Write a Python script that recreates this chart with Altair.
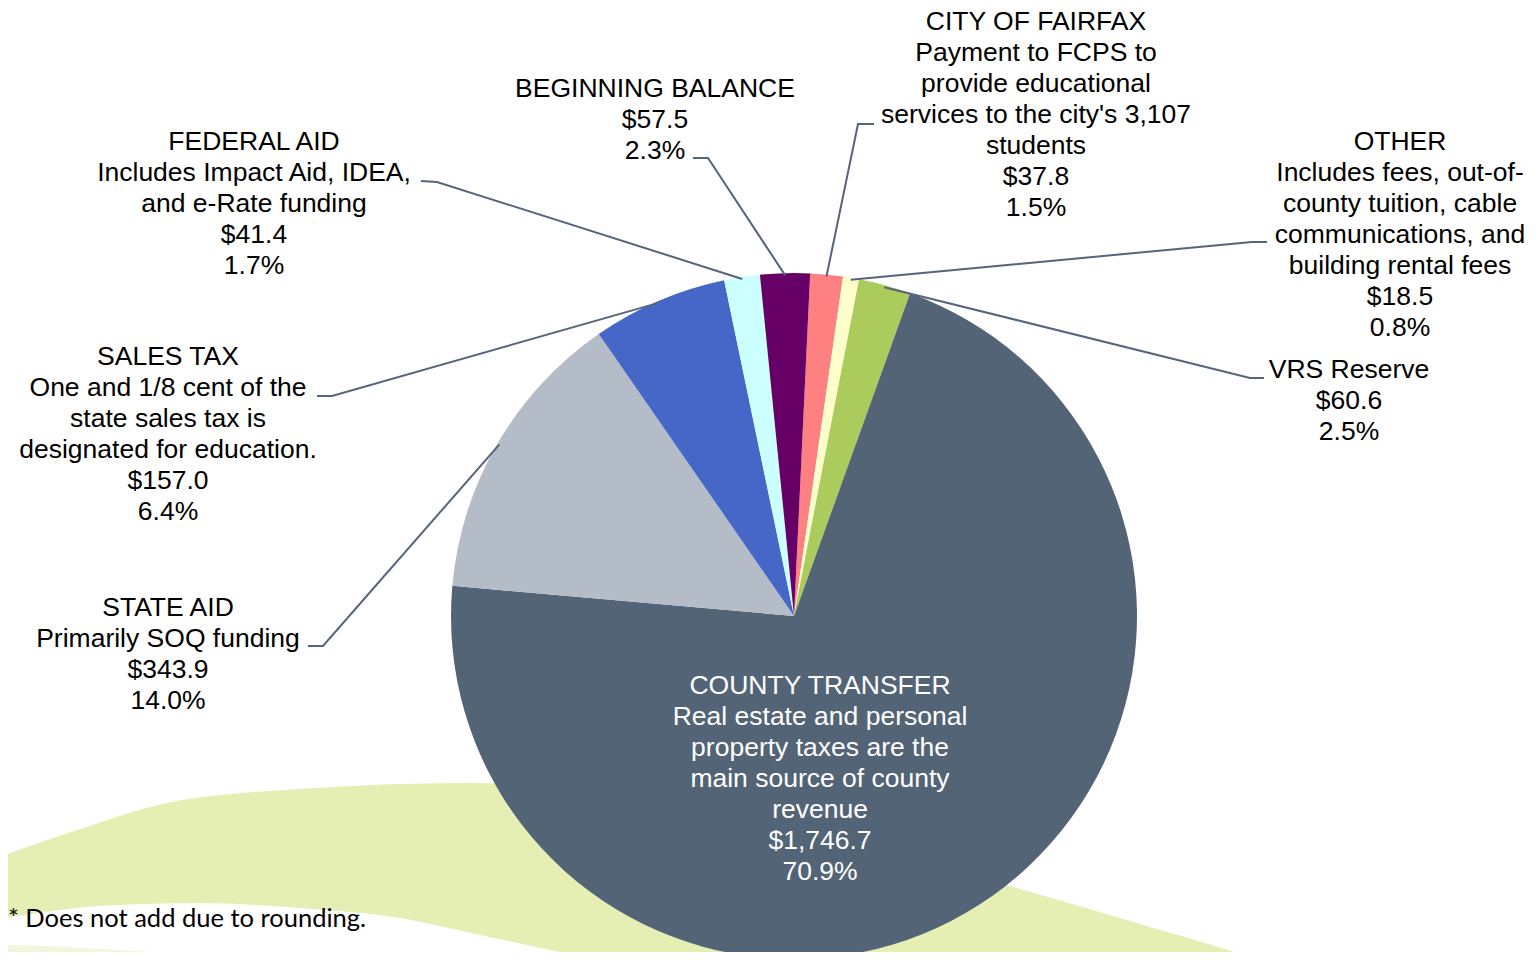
import math
import altair as alt
import pandas as pd

# ---------------- data ----------------
categories = ["CITY OF FAIRFAX", "OTHER", "VRS Reserve", "COUNTY TRANSFER",
              "STATE AID", "SALES TAX", "FEDERAL AID", "BEGINNING BALANCE"]
values = [37.8, 18.5, 60.6, 1746.7, 343.9, 157.0, 41.4, 57.5]
percents = [1.5, 0.8, 2.5, 70.9, 14.0, 6.4, 1.7, 2.3]
descriptions = [
    ["Payment to FCPS to", "provide educational", "services to the city's 3,107", "students"],
    ["Includes fees, out-of-", "county tuition, cable", "communications, and", "building rental fees"],
    [],
    ["Real estate and personal", "property taxes are the", "main source of county", "revenue"],
    ["Primarily SOQ funding"],
    ["One and 1/8 cent of the", "state sales tax is", "designated for education."],
    ["Includes Impact Aid, IDEA,", "and e-Rate funding"],
    [],
]
footnote = "* Does not add due to rounding."

# ---------------- styles ----------------
colors = ["#FF8080", "#FFFFCC", "#ABCB5C", "#546477",
          "#B4BCC7", "#4767C8", "#CCFFFF", "#660066"]
text_colors = ["#000000", "#000000", "#000000", "#FFFFFF",
               "#000000", "#000000", "#000000", "#000000"]
LEADER_COLOR = "#56657A"
GREEN = "#E5EFB4"
PALE = "#F2F6DC"
FONT = "Liberation Sans"

# ---------------- layout (reference page pixels) ----------------
OFF = 8                      # page margin
W, H = 1523, 944
CX, CY, R = 794, 616, 343    # pie centre and radius
START = math.radians(2.7)    # angle where the first slice starts
EDGE_R = 341                 # where leader lines touch the pie

label_x = [1036, 1400, 1349, 820, 168, 168, 254, 655]
label_y = [30, 150, 378, 694, 616, 365, 150, 97]      # first-line baselines
leader_a = [(874, 124), (1267, 242), (1264, 378), None, (308, 646), (317, 396), (421, 181), (693, 158)]
leader_b = [(858, 124), (1252, 242), (1250, 378), None, (323, 646), (332, 396), (437, 182), (708, 158)]

# decorative background swoosh outlines
green_top = [(-10, 861), (0, 857), (80, 829), (167, 803), (300, 789), (467, 783),
             (620, 790), (800, 820), (1000, 883), (1130, 921), (1260, 960), (1320, 980)]
white_top = [(-10, 919), (0, 918), (100, 906), (200, 903), (300, 908), (400, 918),
             (480, 935), (580, 957), (660, 980), (760, 1010)]
pale_top = [(-10, 945), (0, 945), (100, 949), (200, 955), (300, 961), (400, 968), (520, 985)]

# ---------------- frames ----------------
total = sum(values)
pie_df = pd.DataFrame({"idx": range(len(categories)), "category": categories, "value": values})


def fmt_money(v):
    return "${:,.1f}".format(v)


lab_rows, lead_rows = [], []
cum = 0.0
for i, (cat, v) in enumerate(zip(categories, values)):
    mid = START + 2 * math.pi * (cum + v / 2) / total
    cum += v
    lines = [cat] + descriptions[i] + [fmt_money(v), "{:.1f}%".format(percents[i])]
    lab_rows.append({"tx": label_x[i] - OFF, "ty": label_y[i] - OFF,
                     "label": "\n".join(lines), "tcolor": text_colors[i]})
    if leader_a[i] is not None:
        cx_e = CX + EDGE_R * math.sin(mid)
        cy_e = CY - EDGE_R * math.cos(mid)
        pts = [leader_a[i], leader_b[i], (cx_e, cy_e)]
        for k, (px, py) in enumerate(pts):
            lead_rows.append({"cat": cat, "k": k, "lx": px - OFF, "ly": py - OFF})

lab_df = pd.DataFrame(lab_rows)
lead_df = pd.DataFrame(lead_rows)


def shape_df(pts):
    return pd.DataFrame({"sx": [p[0] - OFF for p in pts],
                         "sy": [p[1] - OFF for p in pts],
                         "sb": [H + 80 for _ in pts]})


def swoosh(pts, color):
    return alt.Chart(shape_df(pts)).mark_area(color=color, interpolate="monotone",
                                              orient="vertical").encode(
        x=alt.X("sx:Q", scale=None),
        y=alt.Y("sy:Q", scale=None),
        y2=alt.Y2("sb:Q"),
    )


bg_green = swoosh(green_top, GREEN)
bg_white = swoosh(white_top, "#FFFFFF")
bg_pale = swoosh(pale_top, PALE)

pie = alt.Chart(pie_df).mark_arc(outerRadius=R).encode(
    theta=alt.Theta("value:Q", stack=True,
                    scale=alt.Scale(range=[START, START + 2 * math.pi])),
    color=alt.Color("category:N", scale=alt.Scale(domain=categories, range=colors), legend=None),
    order=alt.Order("idx:Q"),
    x=alt.value(CX - OFF),
    y=alt.value(CY - OFF),
)

leaders = alt.Chart(lead_df).mark_line(color=LEADER_COLOR, strokeWidth=2).encode(
    x=alt.X("lx:Q", scale=None),
    y=alt.Y("ly:Q", scale=None),
    detail="cat:N",
    order="k:Q",
)

labels = alt.Chart(lab_df).mark_text(
    align="center", baseline="alphabetic", font=FONT, fontSize=26.5,
    lineHeight=31, lineBreak="\n"
).encode(
    x=alt.X("tx:Q", scale=None),
    y=alt.Y("ty:Q", scale=None),
    text="label:N",
    color=alt.Color("tcolor:N", scale=None),
)

note = alt.Chart(pd.DataFrame({"t": [footnote]})).mark_text(
    align="left", baseline="alphabetic", font="Lato", fontSize=25.5, color="#000000"
).encode(
    x=alt.value(0),
    y=alt.value(927 - OFF),
    text="t:N",
)

chart = alt.layer(bg_green, bg_white, bg_pale, pie, leaders, labels, note).properties(
    width=W, height=H, padding=0, autosize="none", background="#FFFFFF"
).configure_view(stroke=None)

chart.save("out.html", embed_options={"renderer": "svg", "actions": False})
